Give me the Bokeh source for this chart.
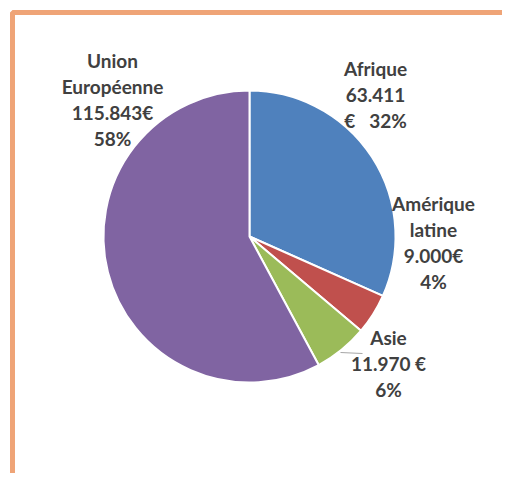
import math
from bokeh.plotting import figure
from bokeh.models import Range1d, ColumnDataSource
from bokeh.core.properties import value
from bokeh.embed import file_html
from bokeh.resources import INLINE

# ---- data ----
categories = ["Afrique", "Amérique latine", "Asie", "Union Européenne"]
amounts = [63.411, 9.000, 11.970, 115.843]
labels = ["Afrique\n63.411\n€\u00a0\u00a0\u00a032%", "Amérique\nlatine\n9.000€\n4%",
          "Asie\n11.970 €\n6%", "Union\nEuropéenne\n115.843€\n58%"]
colors = ["#4F81BD", "#C0504D", "#9BBB59", "#8064A2"]

# ---- layout (screen pixel coords) ----
W, H = 502, 473
CX, CY, R = 249, 236, 146
label_pos = [(375, 94), (433, 242), (388, 363), (112, 99)]

def sy(y):  # screen y -> data y
    return 481 - y

total = sum(amounts)
starts, ends = [], []
cum = 0.0
for a in amounts:
    starts.append(math.pi / 2 - 2 * math.pi * cum / total)
    cum += a
    ends.append(math.pi / 2 - 2 * math.pi * cum / total)

src = ColumnDataSource(dict(cat=categories, start=starts, end=ends, color=colors))

p = figure(width=W, height=H, output_backend="svg", toolbar_location=None,
           x_range=Range1d(0, W), y_range=Range1d(sy(H), sy(0)),
           min_border=0, outline_line_color=None)
p.axis.visible = False
p.grid.visible = False
p.background_fill_color = "white"
p.border_fill_color = "white"

# orange frame
p.line(x=[12, 12, 505, 505], y=[sy(495), sy(12), sy(12), sy(495)],
       line_color="#EFA477", line_width=5)

p.wedge(x=CX, y=sy(CY), radius=R, start_angle="start", end_angle="end",
        direction="clock", fill_color="color", line_color="white",
        line_width=2, source=src)

# leader line for Asie
p.line(x=[340, 362], y=[sy(352), sy(353)], line_color="#A6A6A6", line_width=1)

lsrc = ColumnDataSource(dict(x=[q[0] for q in label_pos],
                             y=[sy(q[1]) for q in label_pos], t=labels))
p.text(x="x", y="y", text="t", source=lsrc, text_align="center",
       text_baseline="middle", text_font=value("Lato"), text_font_style="bold",
       text_font_size="19px", text_color="#404040", text_line_height=1.12)

open("out.html", "w").write(file_html(p, INLINE))
